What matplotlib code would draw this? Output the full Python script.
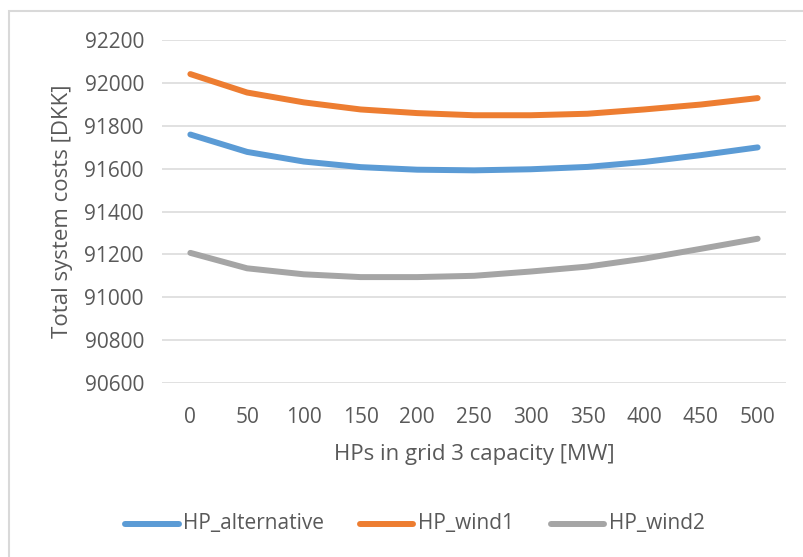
import numpy as np
import matplotlib
matplotlib.use('Agg')
import matplotlib.pyplot as plt
from matplotlib.patches import Rectangle
from matplotlib.lines import Line2D

# Data
capacity = [0, 50, 100, 150, 200, 250, 300, 350, 400, 450, 500]
hp_alternative = [91759, 91678, 91633, 91607, 91595, 91592, 91597, 91608, 91631, 91663, 91699]
hp_wind1 = [92041, 91955, 91909, 91876, 91859, 91849, 91849, 91856, 91876, 91899, 91929]
hp_wind2 = [91207, 91135, 91107, 91094, 91094, 91100, 91120, 91143, 91180, 91226, 91273]

series_names = ['HP_alternative', 'HP_wind1', 'HP_wind2']
series_colors = ['#5B9BD5', '#ED7D31', '#A5A5A5']
y_ticks = [90600, 90800, 91000, 91200, 91400, 91600, 91800, 92000, 92200]

text_color = '#595959'
plt.rcParams['font.family'] = ['Open Sans', 'DejaVu Sans']

W, H = 804, 557
fig = plt.figure(figsize=(W / 100, H / 100), dpi=100)

# chart border (runs off the right and bottom edges)
fig.patches.append(Rectangle((9 / W, -0.1), 1.2, 1 - 11 / H + 0.1, transform=fig.transFigure,
                             fill=False, edgecolor='#D9D9D9', linewidth=1.5))

# plot area in pixels: x 162..786, y 40..383
ax = fig.add_axes([162 / W, 1 - 383 / H, (786 - 162) / W, (383 - 40) / H])

x = np.arange(len(capacity))
for vals, name, col in zip([hp_alternative, hp_wind1, hp_wind2], series_names, series_colors):
    ax.plot(x, vals, color=col, linewidth=4.3, solid_capstyle='round', label=name, zorder=3)

ax.set_xlim(-0.5, len(capacity) - 0.5)
ax.set_ylim(y_ticks[0], y_ticks[-1])
ax.set_yticks(y_ticks)
ax.set_xticks(x)
ax.set_xticklabels([str(c) for c in capacity])
ax.grid(axis='y', color='#D9D9D9', linewidth=1.1)
ax.set_axisbelow(True)
for s in ax.spines.values():
    s.set_visible(False)
ax.tick_params(length=0, labelsize=15, colors=text_color)
ax.tick_params(axis='y', pad=13)
ax.tick_params(axis='x', pad=17)

ax.set_ylabel('Total system costs [DKK]', fontsize=16, color=text_color, labelpad=8)
ax.set_xlabel('HPs in grid 3 capacity [MW]', fontsize=16, color=text_color, labelpad=12)

# legend drawn manually to place entries like the original
legend_y = 1 - 524 / H
entries = [(125, 179, 183), (360, 413, 418), (551, 604, 609)]
for (x0, x1, xt), name, col in zip(entries, series_names, series_colors):
    fig.lines.append(Line2D([x0 / W, x1 / W], [legend_y, legend_y], transform=fig.transFigure,
                            color=col, linewidth=4.3, solid_capstyle='round'))
    fig.text(xt / W, legend_y, name, fontsize=15, color=text_color, va='center', ha='left')

fig.savefig('out.png', dpi=100)
